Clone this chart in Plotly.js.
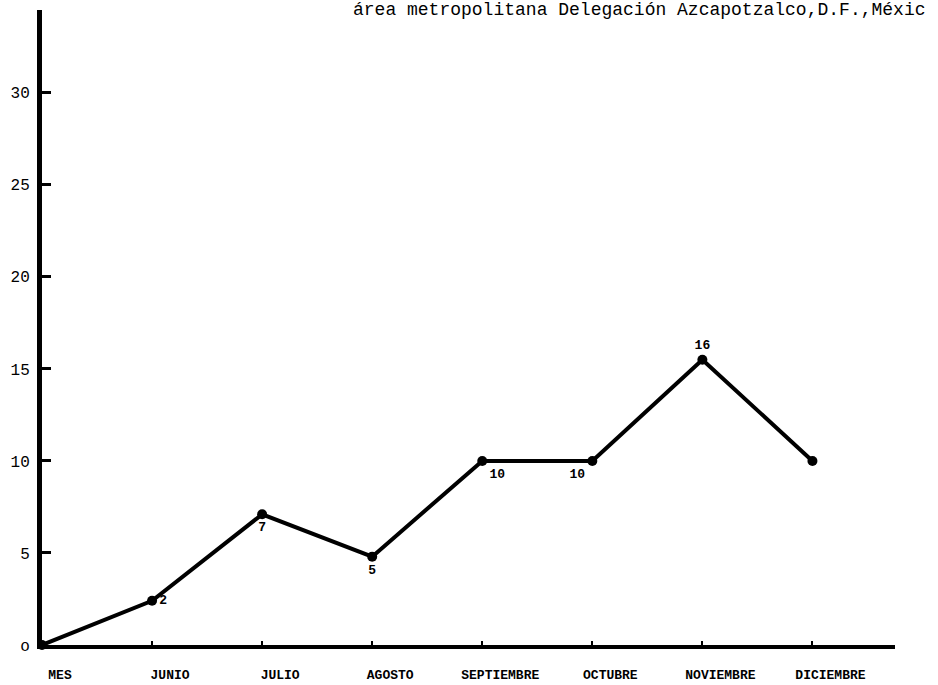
<!DOCTYPE html>
<html>
<head>
<meta charset="utf-8">
<script src="https://cdn.plot.ly/plotly-3.0.1.min.js"></script>
<style>html,body{margin:0;padding:0;background:#fff;}#chart{width:938px;height:685px;}</style>
</head>
<body>
<div id="chart"></div>
<script>
// Data
var months = ["MES", "JUNIO", "JULIO", "AGOSTO", "SEPTIEMBRE", "OCTUBRE", "NOVIEMBRE", "DICIEMBRE"];
var monthIndex = [0, 1, 2, 3, 4, 5, 6, 7];
var values = [0, 2.4, 7.1, 4.8, 10, 10, 15.5, 10];
var pointLabels = ["", "2", "7", "5", "10", "10", "16", ""];
var yTickVals = [0, 5, 10, 15, 20, 25, 30];
var yTickText = ["o", "5", "10", "15", "20", "25", "30"];
var titleText = "área metropolitana Delegación Azcapotzalco,D.F.,Méxic";

var labelPositions = ["middle right", "middle right", "bottom center", "bottom center", "bottom right", "bottom left", "top center", "middle right"];

var trace = {
  x: monthIndex,
  y: values,
  mode: "lines+markers+text",
  text: pointLabels,
  textposition: labelPositions,
  textfont: {family: "Liberation Mono, monospace", size: 13, color: "#000", weight: "bold"},
  line: {color: "#000", width: 4},
  marker: {color: "#000", size: 10},
  cliponaxis: false,
  hoverinfo: "skip"
};

var layout = {
  width: 938,
  height: 685,
  margin: {l: 42, r: 43, t: 10, b: 40},
  paper_bgcolor: "#fff",
  plot_bgcolor: "#fff",
  showlegend: false,
  font: {family: "Liberation Mono, monospace", color: "#000"},
  xaxis: {
    range: [0, 7.75],
    showgrid: false,
    zeroline: false,
    showline: true,
    linecolor: "#000",
    linewidth: 4,
    tickmode: "array",
    tickvals: monthIndex,
    ticktext: months,
    ticks: "inside",
    ticklen: 4,
    tickwidth: 2,
    tickcolor: "#000",
    ticklabelshift: 18,
    ticklabelstandoff: 14,
    tickfont: {family: "Liberation Mono, monospace", size: 13, color: "#000", weight: "bold"},
    fixedrange: true
  },
  yaxis: {
    range: [0, 34.5],
    showgrid: false,
    zeroline: false,
    showline: true,
    linecolor: "#000",
    linewidth: 5,
    tickmode: "array",
    tickvals: yTickVals,
    ticktext: yTickText,
    ticks: "inside",
    ticklen: 9,
    tickwidth: 3,
    tickcolor: "#000",
    ticklabelstandoff: 4,
    tickfont: {family: "Liberation Mono, monospace", size: 16, color: "#000"},
    fixedrange: true
  },
  annotations: [{
    xref: "paper", yref: "paper",
    x: (351 - 42) / (938 - 42 - 43), y: 1,
    xanchor: "left", yanchor: "middle",
    text: titleText,
    showarrow: false,
    font: {family: "Liberation Mono, monospace", size: 18, color: "#000"}
  }]
};

Plotly.newPlot("chart", [trace], layout, {displayModeBar: false, staticPlot: true});
</script>
</body>
</html>
